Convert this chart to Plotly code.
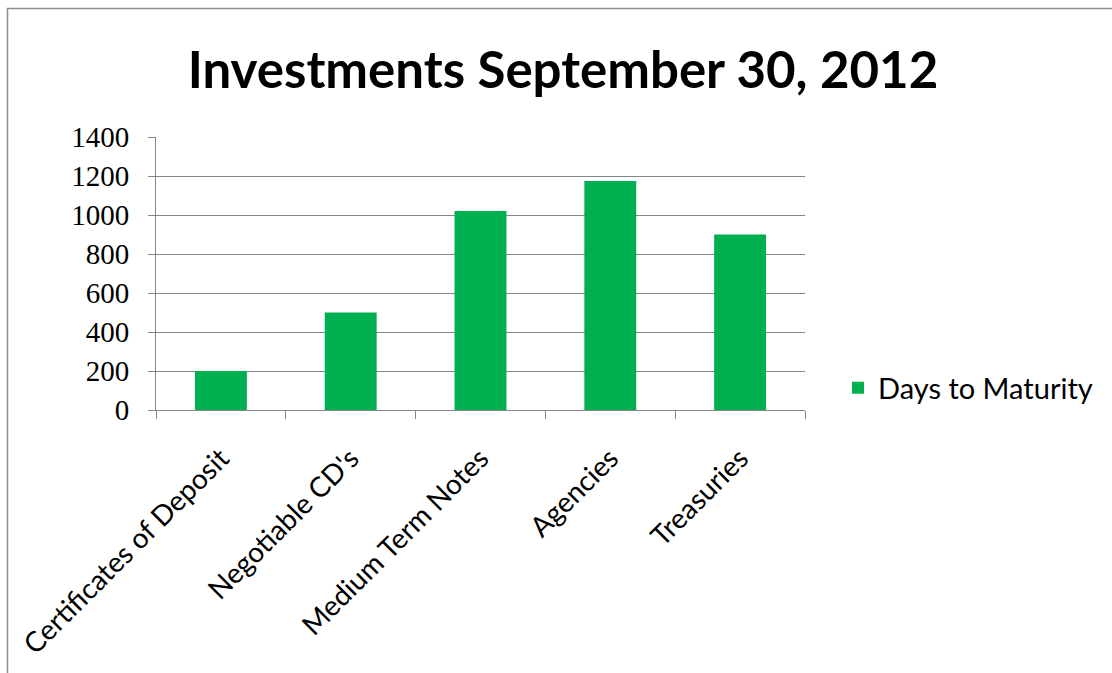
import plotly.graph_objects as go

categories = ["Certificates of Deposit", "Negotiable CD's", "Medium Term Notes", "Agencies", "Treasuries"]
days_to_maturity = [200, 500, 1020, 1175, 900]
series_name = "Days to Maturity"
y_ticks = [0, 200, 400, 600, 800, 1000, 1200, 1400]

W, H = 1112, 673
L, R, T, B = 156, 1112 - 805, 137, 673 - 410
pw, ph = W - L - R, H - T - B


def px_x(p):
    return (p - L) / pw


def px_y(p):
    return (H - B - p) / ph


GRID = "#868686"
GREEN = "#00B050"
SANS = "Lato, 'Open Sans', sans-serif"
SERIF = "'Liberation Serif', 'Times New Roman', serif"

fig = go.Figure()
fig.add_trace(go.Bar(
    x=categories,
    y=days_to_maturity,
    name=series_name,
    marker=dict(color=GREEN, line=dict(width=0)),
    showlegend=True,
))

fig.update_layout(
    width=W,
    height=H,
    margin=dict(l=L, r=R, t=T, b=B, pad=0),
    paper_bgcolor="white",
    plot_bgcolor="white",
    bargap=0.6,
    title=dict(
        text="<b>Investments September 30, 2012</b>",
        font=dict(family=SANS, size=51, color="black"),
        x=px_x(563), xref="paper", xanchor="center",
        y=1 - 70 / H, yref="container", yanchor="middle",
    ),
    showlegend=True,
    legend=dict(
        x=px_x(838), xanchor="left",
        y=px_y(388), yanchor="middle",
        font=dict(family=SANS, size=29, color="black"),
        itemwidth=30,
        bgcolor="rgba(0,0,0,0)",
    ),
    xaxis=dict(
        type="category",
        automargin=False,
        showline=True, linecolor=GRID, linewidth=1,
        ticks="outside", tickson="boundaries", ticklen=8, tickcolor=GRID, tickwidth=1,
        tickangle=-45,
        tickfont=dict(family=SANS, size=28, color="black"),
        ticklabelstandoff=20,
        showgrid=False,
    ),
    yaxis=dict(
        range=[0, 1400],
        tickvals=y_ticks,
        automargin=False,
        showline=True, linecolor=GRID, linewidth=1,
        ticks="outside", ticklen=7, tickcolor=GRID, tickwidth=1,
        tickfont=dict(family=SERIF, size=29, color="black"),
        ticklabelstandoff=13,
        showgrid=True, gridcolor=GRID, gridwidth=1,
        zeroline=False,
    ),
    shapes=[
        dict(
            type="rect", xref="paper", yref="paper",
            x0=px_x(7.5), x1=px_x(1130), y0=px_y(700), y1=px_y(8.5),
            line=dict(color="#8c8c8c", width=1.5),
            fillcolor="rgba(0,0,0,0)", layer="below",
        )
    ],
)

fig.write_html("out.html")
